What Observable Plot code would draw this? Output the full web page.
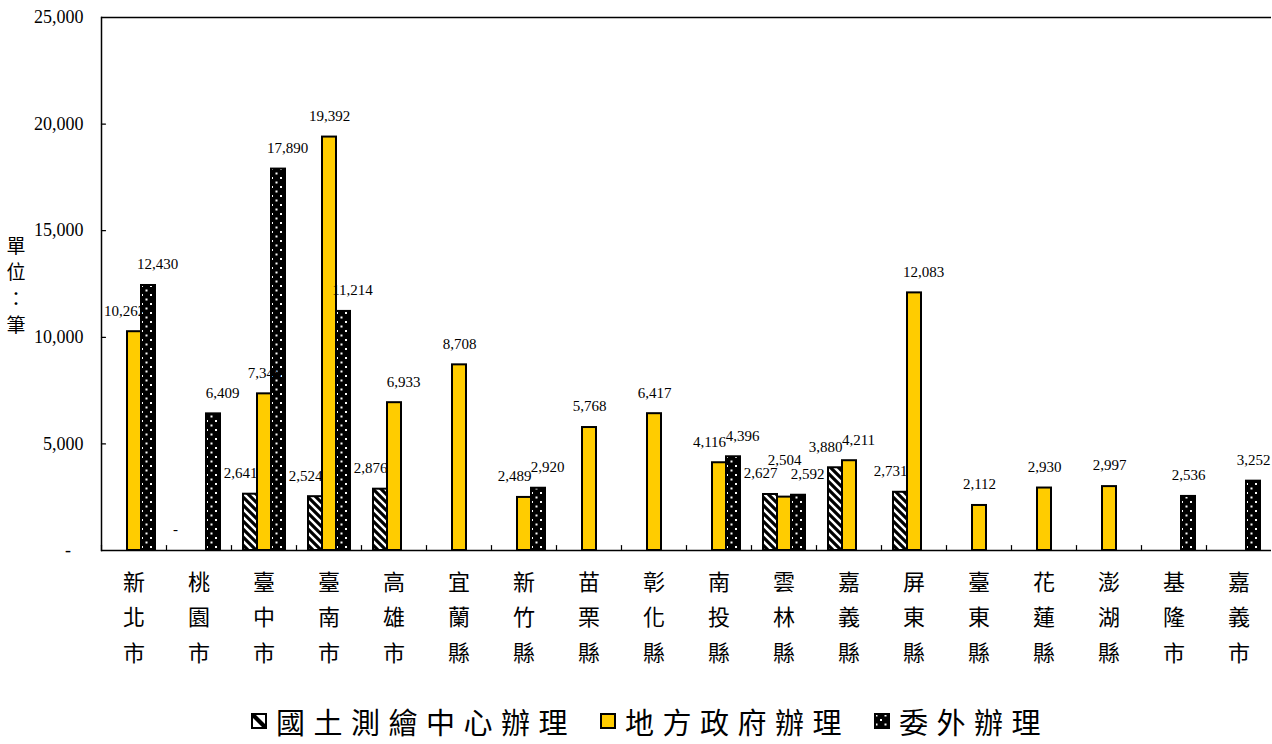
<!DOCTYPE html>
<html>
<head>
<meta charset="utf-8">
<script src="https://cdn.jsdelivr.net/npm/d3@7"></script>
<script src="https://cdn.jsdelivr.net/npm/@observablehq/plot@0.6"></script>
<style>
  html, body { margin: 0; padding: 0; background: #fff; }
  #chart svg { display: block; }
  #legend {
    display: flex; justify-content: center; align-items: center;
    height: 54px; box-sizing: border-box; padding-top: 8px; padding-left: 28px;
    font-family: "Noto Sans CJK TC", sans-serif; font-size: 29px; letter-spacing: 8.5px; color: #000;
  }
  .item { display: flex; align-items: center; margin: 0 12px; }
  .item svg { margin-right: 9px; }
</style>
</head>
<body>
<div id="chart"></div>
<div id="legend"></div>
<script>
// ---- data ----
const categories = ["新北市","桃園市","臺中市","臺南市","高雄市","宜蘭縣","新竹縣","苗栗縣","彰化縣","南投縣","雲林縣","嘉義縣","屏東縣","臺東縣","花蓮縣","澎湖縣","基隆市","嘉義市"];
const seriesNames = ["國土測繪中心辦理","地方政府辦理","委外辦理"];
const nlscValues      = [null, 0, 2641, 2524, 2876, null, null, null, null, null, 2627, 3880, 2731, null, null, null, null, null];
const localValues     = [10262, null, 7348, 19392, 6933, 8708, 2489, 5768, 6417, 4116, 2504, 4211, 12083, 2112, 2930, 2997, null, null];
const outsourceValues = [12430, 6409, 17890, 11214, null, null, 2920, null, null, 4396, 2592, null, null, null, null, null, 2536, 3252];
const yTicks = [0, 5000, 10000, 15000, 20000, 25000];
const yLabel = "單位：筆";
const seriesFills = ["url(#hatch)", "#FFCC00", "url(#dots)"];
const numFont = "'Liberation Serif', 'Times New Roman', Tinos, 'DejaVu Serif', serif";
const cjkFont = "'Noto Sans CJK TC', sans-serif";

const table = [];
const seriesValues = [nlscValues, localValues, outsourceValues];
categories.forEach((c, i) => {
  seriesValues.forEach((arr, j) => {
    if (arr[i] != null) table.push({category: c, series: seriesNames[j], value: arr[i]});
  });
});
// label placement rule: spread labels of neighbouring bars apart; lift a middle label only if it would collide
const labelRows = table.map(d => {
  const group = table.filter(e => e.category === d.category);
  const k = group.indexOf(d);
  let pos = group.length === 1 ? "single" : k === 0 ? "left" : k === group.length - 1 ? "right" : "middle";
  if (pos === "middle") {
    const close = group.some(e => e !== d && Math.abs(e.value - d.value) < 900);
    pos = close ? "lifted" : "single";
  }
  return {...d, pos};
});

const fmt = d => d === 0 ? "-" : d3.format(",")(d);
const tickShape = { draw(context, l) { context.moveTo(0, 0); context.lineTo(0, -l); } };
const labelOpts = { fx: "category", x: "series", y: "value", text: d => fmt(d.value), fontSize: 15, fontFamily: numFont, fill: "black" };

const chart = Plot.plot({
  width: 1272,
  height: 690,
  marginLeft: 101,
  marginRight: 1,
  marginTop: 17,
  marginBottom: 140,
  style: { background: "white", color: "black", fontFamily: numFont },
  fx: { domain: categories, padding: 0 },
  x: { domain: seriesNames, paddingInner: 0, paddingOuter: 0.82, axis: null },
  y: { domain: [0, 25000] },
  color: { domain: seriesNames, range: seriesFills },
  marks: [
    Plot.ruleY([25000], { stroke: "black", strokeWidth: 1.5 }),
    Plot.barY(table, { fx: "category", x: "series", y: "value", fill: "series", stroke: "black", strokeWidth: 2 }),
    Plot.ruleY([0], { stroke: "black", strokeWidth: 1.5 }),
    Plot.frame({ facet: "super", anchor: "left", stroke: "black", strokeWidth: 1.5 }),
    Plot.vector(categories, { fx: d => d, frameAnchor: "bottom-left", length: 5, rotate: 0, anchor: "start", shape: tickShape, stroke: "black", strokeWidth: 1.2 }),
    Plot.vector(yTicks, { fx: yTicks.map(() => categories[0]), y: d => d, frameAnchor: "left", length: 4, rotate: 90, anchor: "start", shape: tickShape, stroke: "black", strokeWidth: 1.2 }),
    Plot.text(labelRows, { ...labelOpts, filter: d => d.pos === "single", dy: -21 }),
    Plot.text(labelRows, { ...labelOpts, filter: d => d.pos === "left", dy: -21, dx: -10 }),
    Plot.text(labelRows, { ...labelOpts, filter: d => d.pos === "right", dy: -21, dx: 9 }),
    Plot.text(labelRows, { ...labelOpts, filter: d => d.pos === "lifted", dy: -37 }),
    Plot.axisY({
      ticks: yTicks,
      tickFormat: d => d === 0 ? "-\u2007\u2009" : d3.format(",")(d),
      tickSize: 0, tickPadding: 18,
      fontSize: 18, fontFamily: numFont, label: null
    }),
    Plot.axisFx({
      anchor: "bottom", tickSize: 0, tickPadding: 14, fontSize: 22, lineHeight: 1.62,
      fontFamily: cjkFont, tickFormat: d => d.split("").join("\n"), label: null
    }),
    Plot.text([yLabel], {
      fx: [categories[0]], frameAnchor: "left", dx: -95,
      text: d => d.split("").join("\n"), fontSize: 19, lineHeight: 1.4,
      fontFamily: cjkFont, fill: "black"
    })
  ]
});

d3.select(chart).insert("defs", ":first-child").html(`
  <pattern id="hatch" patternUnits="userSpaceOnUse" width="8" height="8">
    <rect width="8" height="8" fill="white"/>
    <path d="M-2,-2 L10,10 M-2,6 L2,10 M6,-2 L10,2" stroke="black" stroke-width="3.2"/>
  </pattern>
  <pattern id="dots" patternUnits="userSpaceOnUse" width="9" height="9">
    <rect width="9" height="9" fill="black"/>
    <rect x="1.5" y="1.5" width="2" height="2" fill="white"/>
    <rect x="6" y="6" width="2" height="2" fill="white"/>
  </pattern>
`);
document.getElementById("chart").appendChild(chart);

// ---- legend ----
const legend = d3.select("#legend");
seriesNames.forEach((name, j) => {
  const item = legend.append("div").attr("class", "item");
  const sw = item.append("svg").attr("width", 16).attr("height", 16);
  if (j === 0) {
    sw.append("rect").attr("x", 1).attr("y", 1).attr("width", 14).attr("height", 14).attr("fill", "white").attr("stroke", "black").attr("stroke-width", 2);
    sw.append("path").attr("d", "M2,5 L11,14 L14,14 L14,11 L5,2 L2,2 Z").attr("fill", "black");
  } else {
    sw.append("rect").attr("x", 1).attr("y", 1).attr("width", 14).attr("height", 14).attr("fill", seriesFills[j]).attr("stroke", "black").attr("stroke-width", 2);
  }
  item.append("span").text(name);
});
</script>
</body>
</html>
